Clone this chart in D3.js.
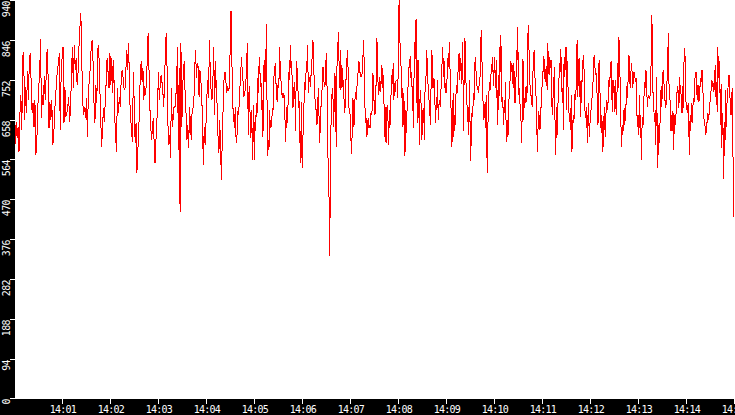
<!DOCTYPE html>
<html><head><meta charset="utf-8">
<script src="https://cdn.jsdelivr.net/npm/d3@7"></script>
<style>
html,body{margin:0;padding:0;background:#000;}
svg{display:block;}
text{font-family:"DejaVu Sans Mono",monospace;font-size:10px;fill:#fff;}
</style></head>
<body>
<svg id="chart" width="735" height="415"></svg>
<script>
const yTicks = [0,94,188,282,376,470,564,658,752,846,940];
const xTickLabels = ["14:01","14:02","14:03","14:04","14:05","14:06","14:07","14:08","14:09","14:10","14:11","14:12","14:13","14:14","14:15"];
const segmentStarts = ["14:00:00","14:02:30","14:05:00","14:07:30","14:10:00","14:12:30"];
const segmentSeconds = 150;

const segment1 = [570,610,652,614,640,582,673,716,633,808,817,657,735,673,772,704,792,815,744,673,697,640,704,574,605,681,735,763,848,662,716,692,761,704,761,824,763,638,699,657,704,598,617,673,716,740,780,787,815,633,770,806,829,650,735,664,673,688,711,652,685,770,829,732,834,775,803,740,770,829,876,909,794,697,669,688,662,709,617,723,751,780,827,846,794,697,650,740,697,822,834,747,681,593,629,685,652,699,747,803,770,732,815,740,803,721,799,669,622,582,732,673,711,688,751,775,758,732,728,775,822,775,839,711,664,633,605,770];
const segment2 = [688,602,649,531,578,626,685,771,795,747,779,704,736,716,743,799,863,779,688,645,610,637,661,602,556,606,645,700,771,704,740,763,747,728,688,736,824,861,775,645,598,622,567,732,641,661,688,685,708,743,830,586,779,441,838,641,732,779,795,704,669,610,645,590,688,645,610,681,685,700,779,822,755,791,783,712,775,751,728,645,551,641,598,645,708,751,708,846,771,724,704,747,830,669,795,728,688,618,578,657,578,516,626,692,755,771,751,720,736,728,732,821,915,802,692,669,637,688,602,622,677,669,732,743,806,775,747,712,724,732,787,839,622,736,677,614,681,563,692];
const segment3 = [563,653,630,696,665,755,720,783,806,736,751,681,704,618,787,747,799,747,883,716,571,610,586,681,637,657,641,685,677,732,783,775,791,704,743,700,755,747,830,771,751,728,708,720,712,716,661,606,661,688,649,728,771,751,834,779,795,736,685,716,747,712,630,795,751,779,685,712,602,630,555,700,543,618,673,716,747,728,795,783,834,720,755,759,736,759,791,810,846,787,747,708,681,681,645,685,732,673,602,645,688,696,751,783,751,743,736,775,814,743,665,496,488,336,492,641,700,732,712,641,700,767,673,594,783,810,865,802,732,822,728,787,775,736,751,673,704,685,802,783,822,751,685,681,665,610,577,645,708,641,649,704,724,704,736,755,779,795,767,771,759,759,771,806,846,775,688,649,661,618,653,661,637,645,637,673,669,685,767,704];
const segment4 = [704,669,685,771,850,791,728,716,759,724,732,787,732,779,736,688,618,688,602,685,688,657,598,681,637,700,724,763,743,791,704,743,724,747,751,751,708,826,940,850,826,783,708,732,641,720,688,571,681,627,673,700,751,783,779,808,755,771,728,700,637,771,842,800,895,743,649,799,743,598,704,728,677,610,681,649,685,610,755,736,822,799,759,712,704,681,645,732,822,799,732,755,751,696,649,700,704,751,657,692,704,688,716,763,795,830,759,795,732,743,720,740,767,802,783,842,783,728,661,594,665,720,618,669,645,708,740,720,755,799,814,751,802,783,743,842,755,630,822,850,783,720,700,653,688,622,751,626,561,673,665,673,720,704,783,806,771,740,736,728,720,751,751,826,869,802,751,681,657,677,700,637,716,533,618,712,728,747,728,767,771,806,771,736];
const segment5 = [806,771,732,799,720,645,763,681,830,771,857,771,685,712,645,685,673,747,653,604,657,618,692,716,743,795,771,791,767,732,791,704,696,732,822,799,877,716,732,712,673,653,602,704,800,657,708,692,732,736,700,822,881,838,763,732,716,712,688,771,775,822,767,740,712,661,582,633,677,661,633,657,704,728,771,771,808,775,747,775,783,728,839,787,763,806,779,799,704,669,708,728,783,665,575,688,614,665,712,747,791,771,824,763,716,732,633,806,759,795,830,681,795,736,696,653,673,633,716,582,626,669,649,696,724,704,787,846,712,779,802,747,665,751,696,795,799,810,751,681,661,688,645,602,696,649,618,661,677,692,712,736,763,810,791,763,767,751,692,645,783,799,728,661,626,669,582,598,661,688,618,661,704,681,688,716,755,736,783,795,732,677,751,720];
const segment6 = [736,677,751,669,712,791,732,853,806,736,649,594,645,622,665,685,645,685,696,736,708,755,810,802,732,763,791,771,732,755,771,763,747,755,688,641,669,622,716,637,669,563,637,665,645,712,747,732,775,747,688,708,716,708,712,728,810,905,802,692,681,653,681,598,759,649,543,645,602,637,677,736,688,736,775,747,736,700,685,704,751,799,861,740,736,673,630,669,630,677,586,653,669,645,688,720,736,724,685,759,732,728,673,736,673,732,818,826,755,681,692,673,696,637,574,669,630,696,649,681,708,700,751,763,771,728,704,740,700,704,736,755,747,775,740,704,661,649,637,622,653,649,673,657,677,696,712,732,751,736,743,724,740,787,712,747,677,828,755,795,759,645,743,590,673,633,517,653,610,728,641,700,712,759,763,732,688,669,712,732,578,429];

const W = 735, H = 415;
const plotLeft = 15, plotBottom = 399;
const day = "2000-01-01T";
const parseT = s => new Date(day + s);

const segments = [segment1,segment2,segment3,segment4,segment5,segment6];
const data = [];
segments.forEach((seg, k) => {
  const t0 = parseT(segmentStarts[k]).getTime();
  const n = seg.length;
  seg.forEach((v, j) => data.push({t: new Date(t0 + j * segmentSeconds * 1000 / n), v}));
});
// last sample at end of range
const svg = d3.select("#chart");

const x = d3.scaleTime()
  .domain([parseT("14:00:00"), parseT("14:15:00")])
  .range([14.3, 734.3]);
const y = d3.scaleLinear().domain([0, 940]).range([398.5, 0]);

svg.append("rect").attr("x",0).attr("y",0).attr("width",W).attr("height",H).attr("fill","#000");
svg.append("rect").attr("x",plotLeft).attr("y",0).attr("width",W-plotLeft).attr("height",plotBottom).attr("fill","#fff");

svg.append("clipPath").attr("id","clip").append("rect")
  .attr("x",plotLeft).attr("y",0).attr("width",W-plotLeft).attr("height",plotBottom);

const line = d3.line().x(d => x(d.t)).y(d => y(d.v));
svg.append("path").datum(data)
  .attr("clip-path","url(#clip)")
  .attr("d", line)
  .attr("fill","none")
  .attr("stroke","#ff0000")
  .attr("stroke-width",1)
  .attr("shape-rendering","crispEdges");

// Y axis
const yg = svg.append("g");
yTicks.forEach(v => {
  const py = Math.min(Math.round(y(v)), 398);
  yg.append("line").attr("x1",10).attr("x2",15).attr("y1",py+0.5).attr("y2",py+0.5)
    .attr("stroke","#fff").attr("stroke-width",1).attr("shape-rendering","crispEdges");
  yg.append("text")
    .attr("transform",`translate(9.5,${py+1}) rotate(-90)`)
    .attr("text-anchor","end")
    .attr("letter-spacing","-0.6px")
    .text(String(v));
});

// X axis
const xTickTimes = xTickLabels.map(l => parseT(l + ":00"));
const xAxis = d3.axisBottom(x).tickValues(xTickTimes)
  .tickFormat((d,i) => xTickLabels[i]).tickSize(5).tickSizeOuter(0).tickPadding(2);
const xg = svg.append("g").attr("transform",`translate(0,${plotBottom})`).call(xAxis);
xg.select(".domain").remove();
xg.selectAll(".tick line").attr("stroke","#fff").attr("shape-rendering","crispEdges");
xg.selectAll(".tick text").attr("fill","#fff")
  .style("font-family","DejaVu Sans Mono, monospace").style("font-size","10px")
  .attr("letter-spacing","-0.8px");
</script>
</body></html>
